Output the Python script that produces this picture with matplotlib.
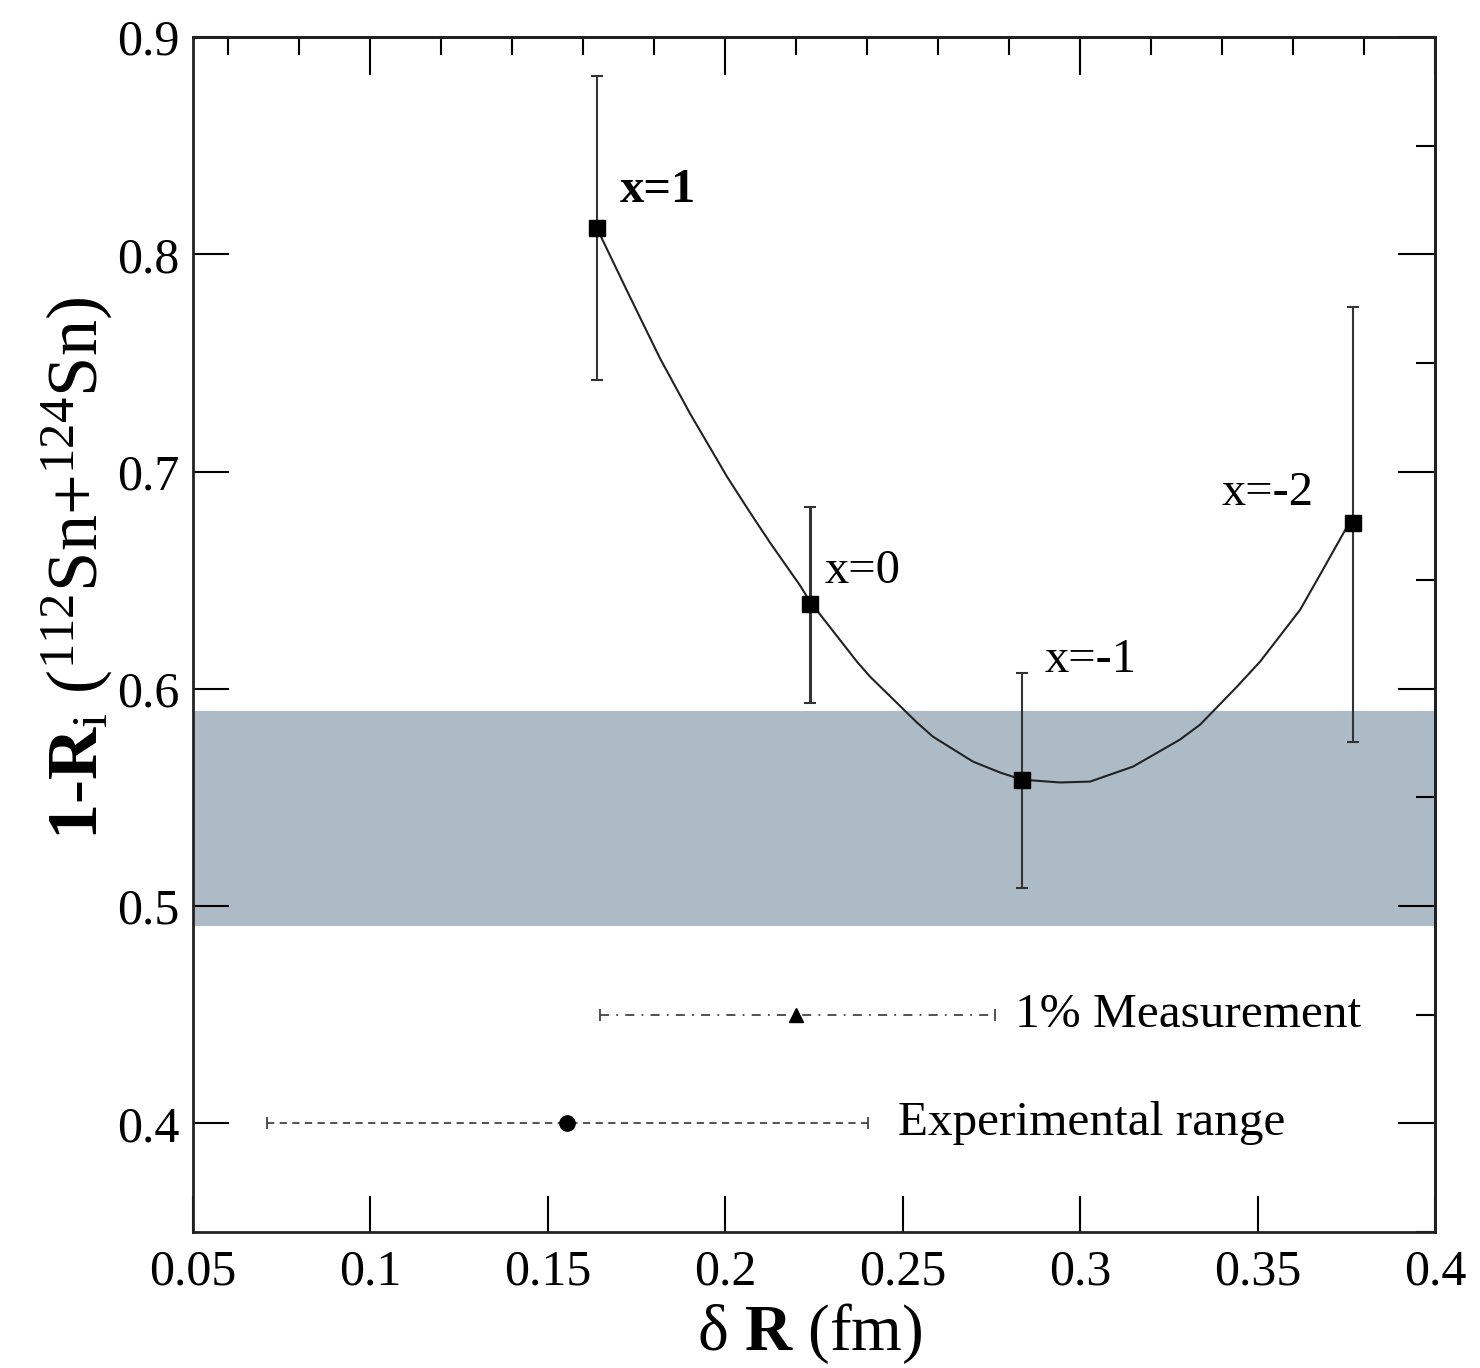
import matplotlib
matplotlib.use("Agg")
import matplotlib.pyplot as plt
from matplotlib.ticker import FixedLocator

plt.rcParams['font.family'] = ['Liberation Serif', 'DejaVu Serif']
plt.rcParams['mathtext.fontset'] = 'custom'
plt.rcParams['mathtext.rm'] = 'Liberation Serif'
plt.rcParams['mathtext.it'] = 'Liberation Serif:italic'
plt.rcParams['mathtext.bf'] = 'Liberation Serif:bold'

# ---- data ----
labels = ["x=1", "x=0", "x=-1", "x=-2"]
dR = [0.1638, 0.2239, 0.2836, 0.3769]
val = [0.812, 0.639, 0.558, 0.6765]
err_hi = [0.882, 0.6838, 0.6075, 0.7758]
err_lo = [0.742, 0.5937, 0.5081, 0.5757]

curve_x = [0.1638, 0.1723, 0.1816, 0.1901, 0.2005, 0.2070, 0.2126, 0.2211, 0.2239,
           0.2371, 0.2408, 0.2540, 0.2585, 0.2698, 0.2774, 0.2836, 0.2943, 0.3028,
           0.3149, 0.3281, 0.3338, 0.3442, 0.3507, 0.3620, 0.3684, 0.3760]
curve_y = [0.8121, 0.7832, 0.7521, 0.7266, 0.6976, 0.6811, 0.6673, 0.6475, 0.6401,
           0.6125, 0.6056, 0.5845, 0.5780, 0.5665, 0.5615, 0.5582, 0.5569, 0.5573,
           0.5642, 0.5766, 0.5835, 0.6010, 0.6125, 0.6364, 0.6548, 0.6769]

band_lo, band_hi = 0.491, 0.590

meas_x, meas_lo, meas_hi, meas_y = 0.2199, 0.1647, 0.2760, 0.45
exp_x, exp_lo, exp_hi, exp_y = 0.1554, 0.0709, 0.2402, 0.40

label_pos = [(0.1703, 0.8296), (0.2281, 0.654), (0.2901, 0.6134), (0.3400, 0.690)]

xticks = [0.05, 0.1, 0.15, 0.2, 0.25, 0.3, 0.35, 0.4]
yticks = [0.4, 0.5, 0.6, 0.7, 0.8, 0.9]
top_major = [0.1, 0.2, 0.3, 0.4]
top_minor = [0.06, 0.08, 0.12, 0.14, 0.16, 0.18, 0.22, 0.24, 0.26, 0.28,
             0.32, 0.34, 0.36, 0.38]
right_minor = [0.35, 0.45, 0.55, 0.65, 0.75, 0.85]

# ---- figure ----
fig = plt.figure(figsize=(14.8, 13.68), dpi=100)
ax = fig.add_axes([193/1480, 1-1232/1368, (1435-193)/1480, (1232-37)/1368])
ax.set_xlim(0.05, 0.4)
ax.set_ylim(0.35, 0.9)

ax.axhspan(band_lo, band_hi, color='#adbbc7', lw=0, zorder=0)

ax.plot(curve_x, curve_y, color='#222222', lw=1.5, zorder=2,
        solid_joinstyle='round')

lws = [1.5, 2.2, 1.5, 1.5]
for i in range(len(dR)):
    ax.errorbar([dR[i]], [val[i]],
                yerr=[[val[i]-err_lo[i]], [err_hi[i]-val[i]]],
                fmt='s', color='black', ms=12, ecolor='#333333',
                elinewidth=lws[i], capsize=4, capthick=1.5, zorder=3)
    ax.text(label_pos[i][0], label_pos[i][1], labels[i], fontsize=35,
            va='center', ha='left', fontweight='bold' if i == 0 else 'normal')

# 1% measurement
eb1 = ax.errorbar([meas_x], [meas_y], xerr=[[meas_x-meas_lo], [meas_hi-meas_x]],
                  fmt='^', color='black', ms=10, ecolor='#444444',
                  elinewidth=1.3, capsize=4, capthick=1.3, zorder=3)
eb1[2][0].set_linestyle((0, (5, 4, 1, 4)))
ax.text(0.2816, meas_y, "1% Measurement", fontsize=35.5, va='center', ha='left')

# experimental range
eb2 = ax.errorbar([exp_x], [exp_y], xerr=[[exp_x-exp_lo], [exp_hi-exp_x]],
                  fmt='o', color='black', ms=11, ecolor='#444444',
                  elinewidth=1.3, capsize=4, capthick=1.3, zorder=3)
eb2[2][0].set_linestyle((0, (4, 3)))
ax.text(0.2487, exp_y, "Experimental range", fontsize=35.5, va='center', ha='left')

# ticks
ax.set_xticks(xticks)
ax.set_xticklabels([f"{t:g}" for t in xticks])
ax.set_yticks(yticks)
ax.set_yticklabels([f"{t:g}" for t in yticks])
ax.tick_params(axis='both', which='major', direction='in', length=26, width=1.5,
               labelsize=36, pad=10)
ax.tick_params(axis='x', which='major', pad=12)
ax.xaxis.set_ticks_position('bottom')
ax.yaxis.set_ticks_position('left')

axt = ax.secondary_xaxis('top')
axt.xaxis.set_major_locator(FixedLocator(top_major))
axt.xaxis.set_minor_locator(FixedLocator(top_minor))
axt.tick_params(which='major', direction='in', length=27, width=1.5, labeltop=False)
axt.tick_params(which='minor', direction='in', length=13, width=1.5)
axt.spines['top'].set_linewidth(2)

axr = ax.secondary_yaxis('right')
axr.yaxis.set_major_locator(FixedLocator(yticks))
axr.yaxis.set_minor_locator(FixedLocator(right_minor))
axr.tick_params(which='major', direction='in', length=27, width=1.5, labelright=False)
axr.tick_params(which='minor', direction='in', length=14, width=1.5)
axr.spines['right'].set_linewidth(2)

for s in ax.spines.values():
    s.set_linewidth(2)
    s.set_color('#222222')

ax.set_xlabel("δ $\\mathbf{R}$ (fm)", fontsize=47, labelpad=0)
ax.set_ylabel("$\\mathbf{1}$-$\\mathbf{R}_{\\mathrm{i}}$ ($^{112}$Sn+$^{124}$Sn)",
              fontsize=52)
ax.xaxis.set_label_coords(0.497, -0.058)
ax.yaxis.set_label_coords(-0.063, 0.555)

fig.savefig("out.png", dpi=100)
